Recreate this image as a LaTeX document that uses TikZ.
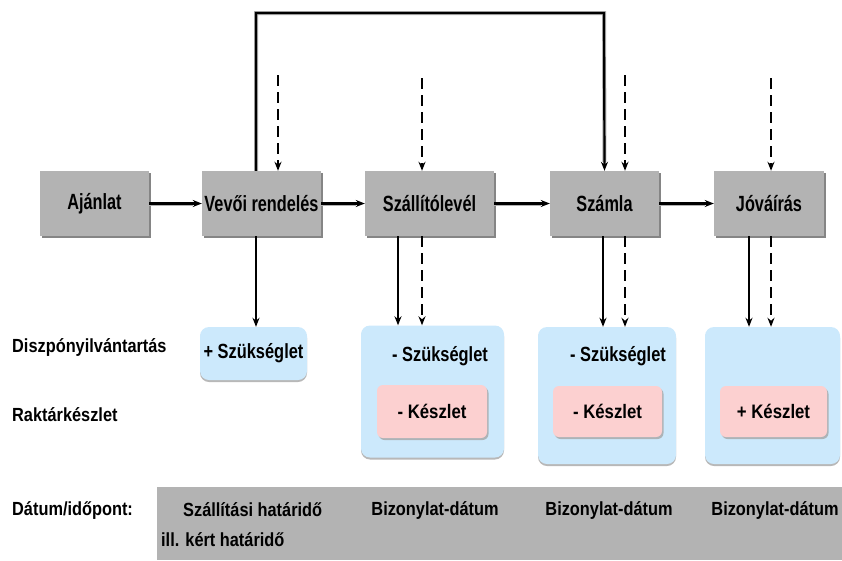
\documentclass[tikz,border=0pt]{standalone}
\usepackage{fontspec}
\setmainfont{Liberation Sans}[FakeStretch=0.86]
\newfontfamily\docfont{Liberation Sans}[FakeStretch=0.74]
\newfontfamily\needfont{Liberation Sans}[FakeStretch=0.8]
\usetikzlibrary{arrows.meta,shadows,positioning}
\definecolor{boxgray}{HTML}{B3B3B3}
\definecolor{lblue}{HTML}{CCE9FC}
\definecolor{lpink}{HTML}{FCD0D0}
\tikzset{
  txt/.style={font=\fontsize{19}{22}\selectfont\bfseries, inner sep=0pt},
  needtxt/.style={font=\needfont\fontsize{20.5}{23}\selectfont\bfseries, inner sep=0pt},
  doc/.style={font=\docfont\fontsize{22}{25}\selectfont\bfseries, inner sep=0pt, draw=none, fill=boxgray, minimum height=65pt,
    drop shadow={shadow xshift=2pt, shadow yshift=-2pt, fill=gray!80!black, opacity=0.8}},
  bluebox/.style={fill=lblue, draw=none, rounded corners=9pt,
    drop shadow={shadow xshift=0pt, shadow yshift=-2pt, fill=gray!70, opacity=0.8}},
  pinkbox/.style={font=\fontsize{19.5}{22}\selectfont\bfseries, inner sep=0pt, fill=lpink, draw=none, rounded corners=6pt,
    drop shadow={shadow xshift=1.5pt, shadow yshift=-2pt, fill=gray!70, opacity=0.8}},
  tip/.style={-{Stealth[length=9pt,width=7pt]}},
  solidarr/.style={tip, line width=2.1pt},
  dasharr/.style={tip, line width=2.1pt, dash pattern=on 11pt off 6pt},
  flowarr/.style={tip, line width=2.4pt, preaction={draw=gray!60, line width=4pt, -, shorten >=9pt}},
}
\begin{document}
\begin{tikzpicture}[x=1pt,y=-1pt]
\useasboundingbox (0,0) rectangle (842,560);

% document boxes
\node[doc, minimum width=109pt] (ajanlat) at (94.5,203.5) {Ajánlat};
\node[doc, minimum width=119pt] (vevo) at (261.5,203.5) {Vevői rendelés};
\node[doc, minimum width=129pt] (szall) at (429.5,203.5) {Szállítólevél};
\node[doc, minimum width=109pt] (szamla) at (604.5,203.5) {Számla};
\node[doc, minimum width=110pt] (jova) at (769,203.5) {Jóváírás};

% bottom bar
\node[fill=boxgray, minimum width=685pt, minimum height=73pt, inner sep=0pt] (bar) at (499.5,523.5) {};

% blue boxes
\node[bluebox, minimum width=107pt, minimum height=53pt, inner sep=0pt, needtxt] (b1) at (253.5,353.5) {+ Szükséglet};
\node[bluebox, minimum width=143pt, minimum height=132pt, inner sep=0pt] (b2) at (432.5,391.5) {};
\node[bluebox, minimum width=138pt, minimum height=137pt, inner sep=0pt] (b3) at (607,395.5) {};
\node[bluebox, minimum width=135pt, minimum height=137pt, inner sep=0pt] (b4) at (772.5,395.5) {};

\node[needtxt, anchor=west] (s2) at (392,356) {- Szükséglet};
\node[needtxt, anchor=west] (s3) at (570,356) {- Szükséglet};

% pink boxes
\node[pinkbox, minimum width=110pt, minimum height=53pt] (k2) at (432,411.5) {- Készlet};
\node[pinkbox, minimum width=109pt, minimum height=51pt] (k3) at (607.5,411.5) {- Készlet};
\node[pinkbox, minimum width=107pt, minimum height=51pt] (k4) at (773.5,411.5) {+ Készlet};

% left labels
\node[txt, anchor=west] (l1) at (12,347) {Diszpónyilvántartás};
\node[txt, anchor=west] (l2) at (12,415) {Raktárkészlet};
\node[txt, anchor=west] (l3) at (12,510) {Dátum/időpont:};

% bar texts
\node[txt, anchor=west] (d1) at (183,510) {Szállítási határidő};
\node[txt, anchor=west] (d1b) at (161,540) {ill. kért határidő};
\node[txt] (d2) at (435,510) {Bizonylat-dátum};
\node[txt] (d3) at (609,510) {Bizonylat-dátum};
\node[txt] (d4) at (775,510) {Bizonylat-dátum};

% horizontal flow arrows
\draw[flowarr] (ajanlat.east) -- (vevo.west);
\draw[flowarr] (vevo.east) -- (szall.west);
\draw[flowarr] (szall.east) -- (szamla.west);
\draw[flowarr] (szamla.east) -- (jova.west);

% loop from Vevői rendelés to Számla
\coordinate (la) at (256,13);
\coordinate (lb) at (604,13);
\draw[flowarr, line width=2.2pt] (vevo.north -| la) -- (la) -- (lb) -- (szamla.north);

% dashed inputs from above
\coordinate (t1) at (278,75);
\coordinate (t2) at (422,78);
\coordinate (t3) at (625,75);
\coordinate (t4) at (771,78);
\draw[dasharr] (t1) -- (t1 |- vevo.north);
\draw[dasharr] (t2) -- (t2 |- szall.north);
\draw[dasharr] (t3) -- (t3 |- szamla.north);
\draw[dasharr] (t4) -- (t4 |- jova.north);

% downward arrows
\coordinate (v1) at (256,0);
\coordinate (v2) at (398,0);
\coordinate (v3) at (603,0);
\coordinate (v4) at (749,0);
\draw[solidarr] (v1 |- vevo.south) -- (v1 |- b1.north);
\draw[solidarr] (v2 |- szall.south) -- (v2 |- b2.north);
\draw[dasharr] (t2 |- szall.south) -- (t2 |- b2.north);
\draw[solidarr] (v3 |- szamla.south) -- (v3 |- b3.north);
\draw[dasharr] (t3 |- szamla.south) -- (t3 |- b3.north);
\draw[solidarr] (v4 |- jova.south) -- (v4 |- b4.north);
\draw[dasharr] (t4 |- jova.south) -- (t4 |- b4.north);
\end{tikzpicture}
\end{document}
